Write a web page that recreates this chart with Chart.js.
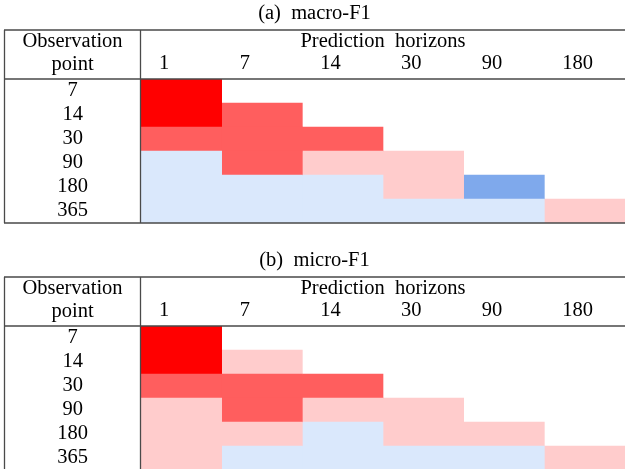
<!DOCTYPE html>
<html>
<head>
<meta charset="utf-8">
<script src="https://cdn.jsdelivr.net/npm/chart.js@4.4.1/dist/chart.umd.min.js"></script>
<style>
  html, body { margin: 0; padding: 0; background: #fff; overflow: hidden; }
  canvas { display: block; }
</style>
</head>
<body>
<canvas id="macroChart" width="625" height="247"></canvas>
<canvas id="microChart" width="625" height="247"></canvas>
<script>
/* ---------- DATA ---------- */
const horizons = ["1", "7", "14", "30", "90", "180"];
const obsPoints = ["7", "14", "30", "90", "180", "365"];

// cell level: 3 strong red, 2 red, 1 light red, -1 light blue, -2 blue, null empty
const macroF1 = [
  [3, null, null, null, null, null],
  [3, 2, null, null, null, null],
  [2, 2, 2, null, null, null],
  [-1, 2, 1, 1, null, null],
  [-1, -1, -1, 1, -2, null],
  [-1, -1, -1, -1, -1, 1]
];
const microF1 = [
  [3, null, null, null, null, null],
  [3, 1, null, null, null, null],
  [2, 2, 2, null, null, null],
  [1, 2, 1, 1, null, null],
  [1, 1, -1, 1, 1, null],
  [1, -1, -1, -1, -1, 1]
];

const levelColors = {
  "3": "#ff0000",
  "2": "#ff5e5e",
  "1": "#ffcccc",
  "-1": "#dae8fc",
  "-2": "#7fa9ec"
};

const FONT = "'Liberation Serif', 'DejaVu Serif', serif";
const FSIZE = 20.5;

/* ---------- TABLE RULES + HEADER TEXT ---------- */
const tablePlugin = {
  id: "tableRules",
  afterDraw(chart) {
    const ctx = chart.ctx;
    const a = chart.chartArea;
    const top = a.top - chart.scales.x.height;
    ctx.save();
    ctx.strokeStyle = "#4a4a4a";
    ctx.lineWidth = 1.3;
    ctx.beginPath();
    ctx.moveTo(4, top); ctx.lineTo(a.right, top);
    ctx.moveTo(4, a.top); ctx.lineTo(a.right, a.top);
    ctx.moveTo(4, a.bottom); ctx.lineTo(a.right, a.bottom);
    ctx.moveTo(4.5, top); ctx.lineTo(4.5, a.bottom);
    ctx.moveTo(a.left - 0.5, top); ctx.lineTo(a.left - 0.5, a.bottom);
    ctx.stroke();

    ctx.fillStyle = "#000";
    ctx.font = FSIZE + "px " + FONT;
    ctx.textAlign = "center";
    ctx.textBaseline = "middle";
    const cx = (4 + a.left) / 2;
    ctx.fillText("Observation", cx, top + 12);
    ctx.fillText("point", cx, top + 35);
    ctx.fillText("Prediction  horizons", (a.left + a.right) / 2, top + 12);
    ctx.restore();
  }
};

/* ---------- BUILD ONE TABLE ---------- */
function makeTable(id, title, grid) {
  const datasets = horizons.map((h, j) => ({
    label: h,
    data: grid.map(row => row[j] == null ? null : [j, j + 1]),
    backgroundColor: grid.map(row => row[j] == null ? "rgba(0,0,0,0)" : levelColors[row[j]]),
    borderWidth: 0,
    grouped: false,
    barPercentage: 1,
    categoryPercentage: 1
  }));

  return new Chart(document.getElementById(id), {
    type: "bar",
    data: { labels: obsPoints, datasets },
    options: {
      indexAxis: "y",
      responsive: false,
      animation: false,
      layout: { padding: { left: 4, right: 0, top: 0, bottom: 24 } },
      plugins: {
        legend: { display: false },
        tooltip: { enabled: false },
        title: {
          display: true,
          text: title,
          color: "#000",
          font: { family: FONT, size: FSIZE, weight: "normal", lineHeight: 1.2 },
          padding: { top: 1, bottom: 4.4 }
        }
      },
      scales: {
        x: {
          type: "linear",
          position: "top",
          min: 0,
          max: horizons.length,
          grid: { display: false, drawTicks: false },
          border: { display: false },
          afterFit: s => { s.height = 49; },
          afterBuildTicks: s => { s.ticks = horizons.map((h, j) => ({ value: j })); },
          ticks: {
            autoSkip: false,
            maxRotation: 0,
            align: "start",
            labelOffset: 18,
            padding: 3,
            color: "#000",
            font: { family: FONT, size: FSIZE },
            callback: (v, i) => horizons[i]
          }
        },
        y: {
          type: "category",
          grid: { display: false, drawTicks: false },
          border: { display: false },
          afterFit: s => { s.width = 137; s.paddingTop = 0; s.paddingBottom = 0; },
          ticks: {
            autoSkip: false,
            crossAlign: "center",
            padding: 53,
            color: "#000",
            font: { family: FONT, size: FSIZE }
          }
        }
      }
    },
    plugins: [tablePlugin]
  });
}

makeTable("macroChart", "(a)  macro-F1", macroF1);
makeTable("microChart", "(b)  micro-F1", microF1);
</script>
</body>
</html>
